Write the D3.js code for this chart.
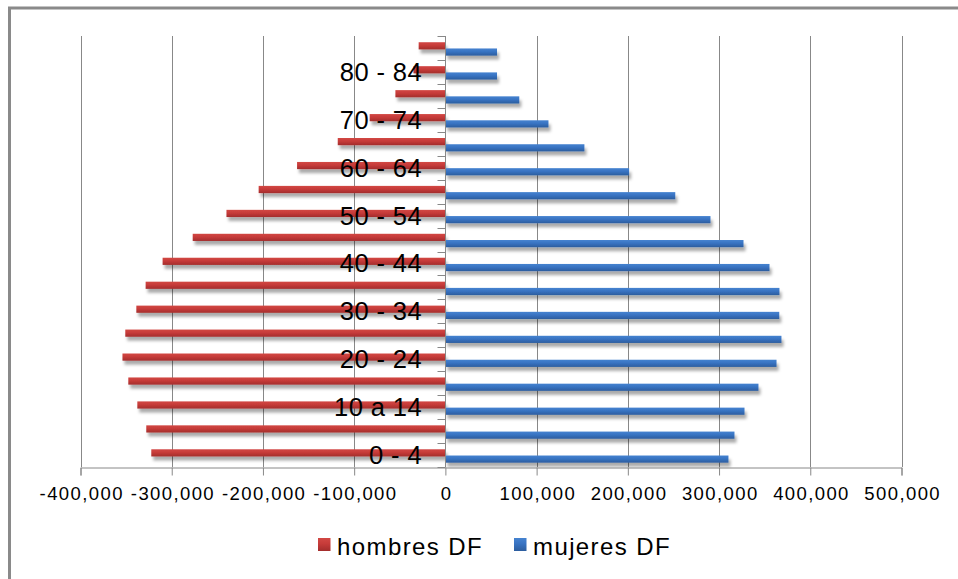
<!DOCTYPE html>
<html>
<head>
<meta charset="utf-8">
<script src="https://cdn.jsdelivr.net/npm/d3@7"></script>
<style>
  html, body { margin: 0; padding: 0; background: #fff; }
  svg { display: block; font-family: Arial, "Liberation Sans", sans-serif; }
</style>
</head>
<body>
<svg id="chart" width="958" height="579"></svg>
<script>
// age groups, bottom to top
const categories = ['0 - 4', '5 - 9', '10 a 14', '15 - 19', '20 - 24', '25 - 29', '30 - 34', '35 - 39',
    '40 - 44', '45 - 49', '50 - 54', '55 - 59', '60 - 64', '65 - 69', '70 - 74', '75 - 79', '80 - 84', '85 y más'];
const hombres = [-322400, -327900, -337700, -347600, -354000, -350900, -338800, -328600, -310000,
    -277000, -240000, -204700, -162600, -118000, -83000, -54800, -35000, -29300];
const mujeres = [310300, 316900, 327900, 343200, 363000, 368400, 366000, 366200, 355300,
    326800, 290600, 252000, 201400, 152400, 113000, 81000, 56600, 56600];
const xTicks = [-400000, -300000, -200000, -100000, 0, 100000, 200000, 300000, 400000, 500000];
const seriesNames = ['hombres DF', 'mujeres DF'];

const svg = d3.select('#chart');
const defs = svg.append('defs');

function gradient(id, top, mid, bottom) {
    const g = defs.append('linearGradient').attr('id', id)
        .attr('x1', 0).attr('y1', 0).attr('x2', 0).attr('y2', 1);
    g.append('stop').attr('offset', '0%').attr('stop-color', top);
    g.append('stop').attr('offset', '45%').attr('stop-color', mid);
    g.append('stop').attr('offset', '100%').attr('stop-color', bottom);
}
gradient('gRed', '#d24844', '#c63b39', '#a32d2c');
gradient('gBlue', '#4683d0', '#3873c2', '#2c5d9e');

const shadow = defs.append('filter').attr('id', 'shadow')
    .attr('x', '-5%').attr('y', '-50%').attr('width', '115%').attr('height', '250%');
shadow.append('feDropShadow').attr('dx', 2).attr('dy', 4).attr('stdDeviation', 1.8)
    .attr('flood-color', '#000').attr('flood-opacity', 0.33);

// outer frame (continues past the right and bottom edge)
svg.append('path').attr('d', 'M9.5,1000 V8 H1000')
    .attr('fill', 'none').attr('stroke', '#8a8a8a').attr('stroke-width', 3);

const x = d3.scaleLinear().domain([-400000, 500000]).range([80.5, 901.5]);
const y = d3.scaleBand().domain(categories.slice().reverse()).range([36, 467]).paddingInner(0);
const bh = y.bandwidth();
const fmt = d3.format(',');

// vertical gridlines
svg.append('g').selectAll('line').data(xTicks).join('line')
    .attr('x1', d => Math.round(x(d)) + 0.5).attr('x2', d => Math.round(x(d)) + 0.5)
    .attr('y1', 36).attr('y2', 467)
    .attr('stroke', '#888').attr('stroke-width', 1);

// bars
const bars = svg.append('g').attr('filter', 'url(#shadow)');
bars.selectAll('rect.h').data(categories).join('rect').attr('class', 'h')
    .attr('x', (d, i) => x(hombres[i]))
    .attr('width', (d, i) => x(0) - x(hombres[i]))
    .attr('y', d => y(d) + bh * 0.26)
    .attr('height', bh * 0.3)
    .attr('fill', 'url(#gRed)');
bars.selectAll('rect.m').data(categories).join('rect').attr('class', 'm')
    .attr('x', x(0))
    .attr('width', (d, i) => x(mujeres[i]) - x(0))
    .attr('y', d => y(d) + bh * 0.52)
    .attr('height', bh * 0.3)
    .attr('fill', 'url(#gBlue)');

// horizontal value axis
const xAxis = svg.append('g').attr('transform', 'translate(0,467.5)')
    .call(d3.axisBottom(x).tickValues(xTicks).tickSize(8).tickPadding(11)
        .tickFormat(d => fmt(d).replace('\u2212', '-')));
xAxis.select('.domain').attr('stroke', '#888');
xAxis.selectAll('.tick line').attr('stroke', '#888');
xAxis.selectAll('.tick text').attr('fill', '#000').attr('font-size', '18.5px')
    .attr('letter-spacing', '1.4px').attr('dx', '0.7px')
    .attr('font-family', 'Arial, "Liberation Sans", sans-serif');

// category axis at zero
const yAxis = svg.append('g').attr('transform', 'translate(' + (Math.round(x(0)) + 0.5) + ',0)');
yAxis.append('line').attr('y1', 36).attr('y2', 467).attr('stroke', '#888');
yAxis.selectAll('line.tk').data(d3.range(categories.length + 1)).join('line').attr('class', 'tk')
    .attr('x1', -8).attr('x2', 0)
    .attr('y1', i => Math.round(36 + i * bh) + 0.5).attr('y2', i => Math.round(36 + i * bh) + 0.5)
    .attr('stroke', '#888');

// category labels: every second one
svg.append('g').selectAll('text').data(categories.filter((d, i) => i % 2 === 0)).join('text')
    .attr('x', 422)
    .attr('y', d => y(d) + bh / 2 + 9)
    .attr('text-anchor', 'end')
    .attr('font-size', '25.5px')
    .attr('letter-spacing', '0.4px')
    .attr('fill', '#000')
    .text(d => d);

// legend
const legend = svg.append('g');
const legendX = [318, 514];
const legendFill = ['url(#gRed)', 'url(#gBlue)'];
seriesNames.forEach(function(name, i) {
    legend.append('rect').attr('x', legendX[i]).attr('y', 538).attr('width', 12.5).attr('height', 13)
        .attr('fill', legendFill[i]);
    legend.append('text').attr('x', legendX[i] + 19).attr('y', 554.5)
        .attr('font-size', '24px').attr('letter-spacing', '1.4px').attr('fill', '#000')
        .text(name);
});
</script>
</body>
</html>
